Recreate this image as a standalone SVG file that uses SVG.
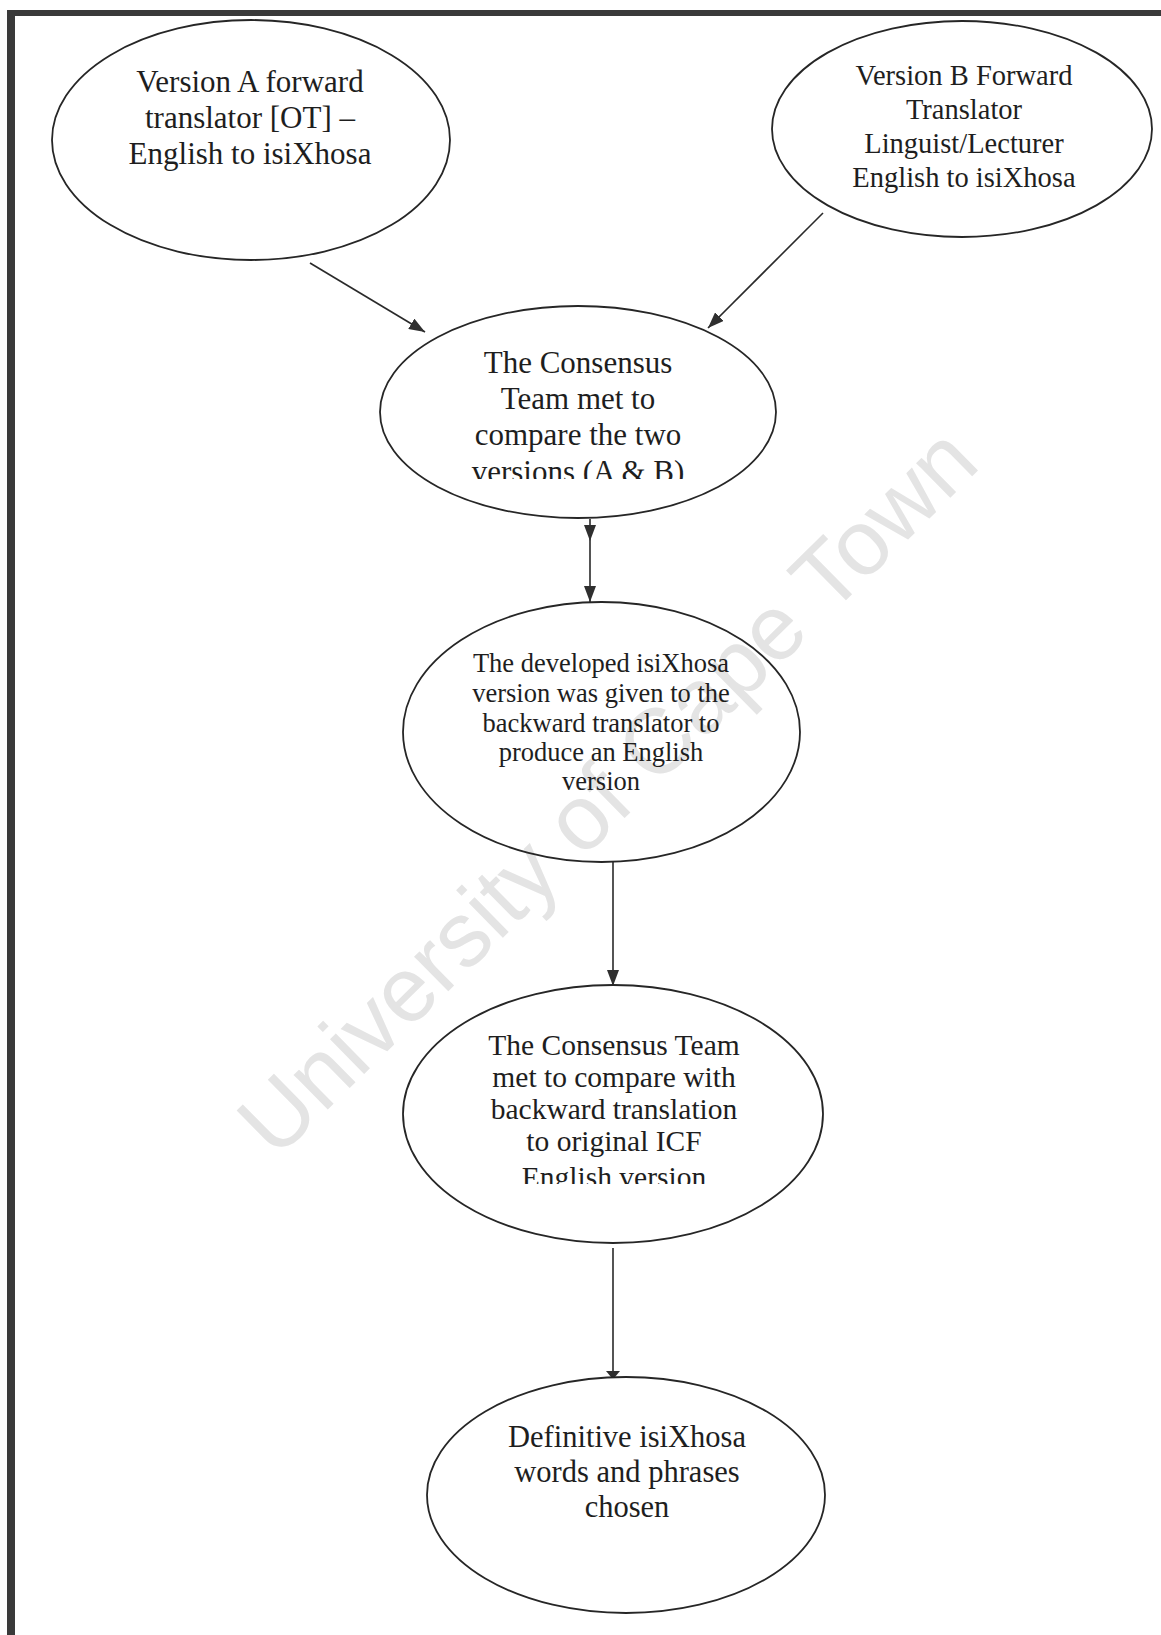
<svg xmlns="http://www.w3.org/2000/svg" width="1161" height="1635" viewBox="0 0 1161 1635">
<style>
.node ellipse{fill:none;stroke:#262626;stroke-width:1.8}
.node text{font-family:"Liberation Serif","Times New Roman",serif;fill:#1e1e1e;text-anchor:middle}
.conn line,.conn path{stroke:#2a2a2a;stroke-width:1.6;fill:none}
.wm{font-family:"Liberation Sans",Arial,sans-serif;fill:#e4e4e4;text-anchor:middle}
</style>
<defs>
<marker id="arr" viewBox="0 0 16 12" refX="16" refY="6" markerWidth="16" markerHeight="12" markerUnits="userSpaceOnUse" orient="auto">
<path d="M0,0 L16,6 L0,12 z" fill="#2f2f2f"/>
</marker>
<marker id="arrflat" viewBox="0 0 6 14" refX="6" refY="7" markerWidth="6" markerHeight="14" markerUnits="userSpaceOnUse" orient="auto">
<path d="M0,0 L6,5 L6,9 L0,14 z" fill="#2f2f2f"/>
</marker>
<clipPath id="clipC"><rect x="370" y="300" width="420" height="179"/></clipPath>
<clipPath id="clipE"><rect x="390" y="980" width="450" height="204"/></clipPath>
</defs>
<rect width="1161" height="1635" fill="#fff"/>
<g id="frame">
<rect x="7" y="10" width="1154" height="6" fill="#3a3a3a"/>
<rect x="7" y="10" width="8" height="1625" fill="#3a3a3a"/>
</g>
<text class="wm" font-size="92" transform="translate(606,790) rotate(-44.5)" y="33">University of Cape Town</text>
<g id="connectors" class="conn">
<line x1="310" y1="263" x2="425" y2="332" marker-end="url(#arr)"/>
<line x1="823" y1="213" x2="708" y2="328" marker-end="url(#arr)"/>
<path d="M590,519 L590,541 L590,602" marker-mid="url(#arr)" marker-end="url(#arr)"/>
<line x1="613" y1="862" x2="613" y2="986" marker-end="url(#arr)"/>
<line x1="613" y1="1248" x2="613" y2="1377" marker-end="url(#arrflat)"/>
</g>
<g id="nodeA" class="node">
<ellipse cx="251" cy="140" rx="199" ry="120"/>
<text font-size="31"><tspan x="250" y="92">Version A forward</tspan><tspan x="250" y="128">translator [OT] –</tspan><tspan x="250" y="164">English to isiXhosa</tspan></text>
</g>
<g id="nodeB" class="node">
<ellipse cx="962" cy="129" rx="190" ry="108"/>
<text font-size="28.5"><tspan x="964" y="85">Version B Forward</tspan><tspan x="964" y="119">Translator</tspan><tspan x="964" y="153">Linguist/Lecturer</tspan><tspan x="964" y="187">English to isiXhosa</tspan></text>
</g>
<g id="nodeC" class="node">
<ellipse cx="578" cy="412" rx="198" ry="106"/>
<text font-size="31" clip-path="url(#clipC)"><tspan x="578" y="373">The Consensus</tspan><tspan x="578" y="409">Team met to</tspan><tspan x="578" y="445">compare the two</tspan><tspan x="578" y="482">versions (A &amp; B)</tspan></text>
</g>
<g id="nodeD" class="node">
<ellipse cx="601.5" cy="732" rx="198.5" ry="130"/>
<text font-size="26.5"><tspan x="601" y="672">The developed isiXhosa</tspan><tspan x="601" y="702">version was given to the</tspan><tspan x="601" y="732">backward translator to</tspan><tspan x="601" y="761">produce an English</tspan><tspan x="601" y="790">version</tspan></text>
</g>
<g id="nodeE" class="node">
<ellipse cx="613" cy="1114" rx="210" ry="129"/>
<text font-size="29.5" clip-path="url(#clipE)"><tspan x="614" y="1055">The Consensus Team</tspan><tspan x="614" y="1087">met to compare with</tspan><tspan x="614" y="1119">backward translation</tspan><tspan x="614" y="1151">to original ICF</tspan><tspan x="614" y="1187">English version</tspan></text>
</g>
<g id="nodeF" class="node">
<ellipse cx="626" cy="1495" rx="199" ry="118"/>
<text font-size="30.5"><tspan x="627" y="1447">Definitive isiXhosa</tspan><tspan x="627" y="1482">words and phrases</tspan><tspan x="627" y="1517">chosen</tspan></text>
</g>
</svg>
